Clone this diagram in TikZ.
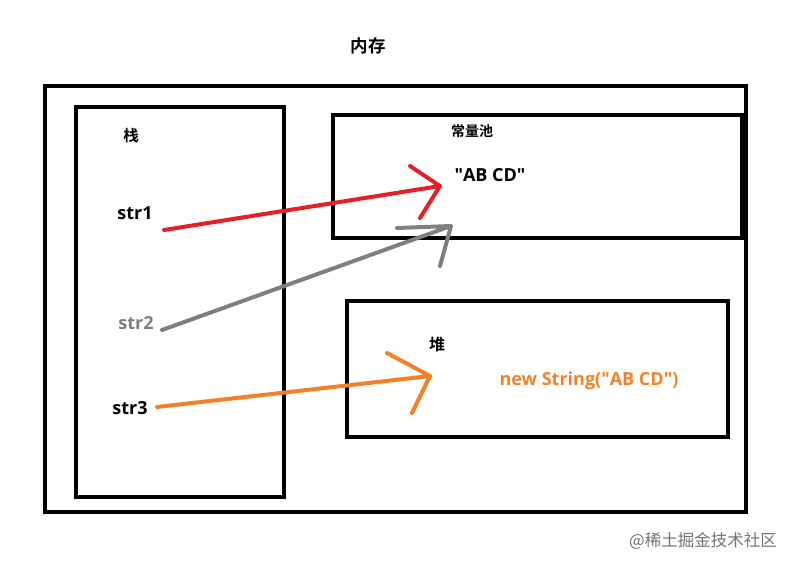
\documentclass[tikz,border=0pt]{standalone}
\usepackage{fontspec}
\setmainfont{Open Sans}
\newfontfamily\cjk{Noto Sans CJK SC}[BoldFont={* Bold}]
\usetikzlibrary{positioning}

\definecolor{refred}{RGB}{232,30,38}
\definecolor{refgray}{RGB}{127,127,127}
\definecolor{reforange}{RGB}{244,128,40}

\begin{document}
\begin{tikzpicture}[
      x=1pt, y=-1pt,
      every node/.style={font=\bfseries\fontsize{18}{21}\selectfont},
      zh/.style={font=\cjk\bfseries\fontsize{#1}{18}\selectfont},
      zh/.default=15.5,
      area/.style={
        draw,
        line width=3.5pt
      },
      ptr/.style={
        line width=4pt,
        line cap=round,
        line join=round,
        draw=#1
      }
    ]
    \useasboundingbox (0,0) rectangle (794,568);

    \draw[area] (45,86) rectangle (746,512);
    \draw[area] (76,107) rectangle (284,497);
    \draw[area] (333,115) rectangle (742,238);
    \draw[area] (347,301) rectangle (728,437);

    \node[zh=17.5] (mem) at (368,46) {内存};
    \node[zh] (stack) at (131,136) {栈};
    \node[zh=14] (pool) at (472,131) {常量池};
    \node[zh=16] (heap) at (437,344) {堆};
    \node (lit) at (490,175) {\textquotedbl AB CD\textquotedbl};
    \node[text=reforange] (obj) at (589,381) {new String(\textquotedbl AB CD\textquotedbl)};

    \node (str1) at (135,213) {str1};
    \node[text=refgray] (str2) at (136,323) {str2};
    \node (str3) at (130,408) {str3};

    \coordinate (s1) at (164,230);
    \coordinate (s2) at (162,330);
    \coordinate (s3) at (157,407);
    \coordinate (t1) at (440,186);
    \coordinate (t2) at (451,226);
    \coordinate (t3) at (430,376);

    \draw[ptr=refred] (s1) -- (t1) (t1) -- ++(-30,-20) (t1) -- ++(-20,32);
    \draw[ptr=refgray] (s2) -- (t2) (t2) -- ++(-54,2) (t2) -- ++(-11,40);
    \draw[ptr=reforange] (s3) -- (t3) (t3) -- ++(-43,-23) (t3) -- ++(-18,37);

    \node[text=black!55, font=\cjk\fontsize{16.5}{18}\selectfont] (mark) at (703,541) {@稀土掘金技术社区};
\end{tikzpicture}
\end{document}
